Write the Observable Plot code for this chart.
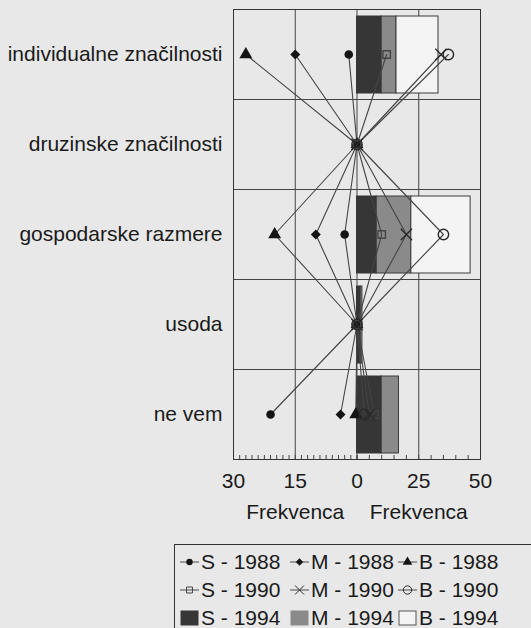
<!DOCTYPE html>
<html><head><meta charset="utf-8">
<script src="https://cdn.jsdelivr.net/npm/d3@7"></script>
<script src="https://cdn.jsdelivr.net/npm/@observablehq/plot@0.6"></script>
<style>
body{margin:0;background:#e8e8e8;font-family:"Liberation Sans",Arial,sans-serif;color:#1a1a1a;}
#wrap{position:relative;width:531px;height:628px;overflow:hidden;}
#legend{position:absolute;left:174px;top:544px;width:420px;height:100px;border:1px solid #333;box-sizing:border-box;padding:3px 0 0 5px;}
.row{display:flex;height:28px;align-items:center;}
.item{display:flex;align-items:center;font-size:21px;white-space:nowrap;}
.item svg{margin-right:2px;}
</style></head><body><div id="wrap"><div id="chart"></div><div id="legend"></div></div>
<script>
const categories = ["individualne značilnosti","druzinske značilnosti","gospodarske razmere","usoda","ne vem"];
const leftMax = 30, rightMax = 50;
const leftTicks = [30, 15];
const rightTicks = [0, 25, 50];
const axisTitle = "Frekvenca";

const S1988 = [2, 0, 3, 0, 21];
const M1988 = [15, 0, 10, 0, 4];
const B1988 = [27, 0, 20, 0, 0.3];
const S1990 = [12, 0, 10, 0, 7];
const M1990 = [34, 0, 20, 0, 5];
const B1990 = [37, 0, 35, 0, 3];
const S1994 = [10, 0, 8, 1.5, 10];
const M1994 = [6, 0, 14, 0.7, 7];
const B1994 = [17, 0, 24, 0, 0];

const L = v => -v / leftMax, R = v => v / rightMax;

const lineSeries = [
  {name: "S - 1988", values: S1988, pos: L, symbol: "circle", r: 4.3, fill: "#151515", stroke: "none"},
  {name: "M - 1988", values: M1988, pos: L, symbol: "diamond2", r: 4.5, fill: "#151515", stroke: "none"},
  {name: "B - 1988", values: B1988, pos: L, symbol: "triangle", r: 4.8, fill: "#151515", stroke: "none"},
  {name: "S - 1990", values: S1990, pos: R, symbol: "square", r: 4.2, fill: "none", stroke: "#444"},
  {name: "M - 1990", values: M1990, pos: R, symbol: "times", r: 5.2, fill: "none", stroke: "#2a2a2a"},
  {name: "B - 1990", values: B1990, pos: R, symbol: "circle", r: 5.2, fill: "none", stroke: "#2a2a2a"}
];
const barSeries = [
  {name: "S - 1994", values: S1994, fill: "#363636"},
  {name: "M - 1994", values: M1994, fill: "#8a8a8a"},
  {name: "B - 1994", values: B1994, fill: "#f4f4f4"}
];

const points = lineSeries.flatMap(s => s.values.map((v, i) => ({series: s.name, i, u: s.pos(v)})));

const rects = [];
categories.forEach((c, i) => {
  let acc = 0;
  barSeries.forEach(s => {
    const v = s.values[i];
    if (v > 0) rects.push({series: s.name, i, x1: R(acc), x2: R(acc + v), fill: s.fill});
    acc += v;
  });
});

const majorU = [...leftTicks.map(L), ...rightTicks.map(R)];
const gridU = majorU.filter(u => u > -1 && u < 1);
const minorU = [...d3.range(0, leftMax + 1e-9, 1.5).map(L), ...d3.range(0, rightMax + 1e-9, 5).map(R)];
const rowBounds = d3.range(1, categories.length).map(i => i - 0.5);
const titles = [{u: (L(leftMax) + L(0)) / 2}, {u: (R(0) + R(rightMax)) / 2}];

const marks = [
  Plot.ruleX(gridU, {stroke: "#444", strokeWidth: 1}),
  Plot.ruleY(rowBounds, {stroke: "#444", strokeWidth: 1}),
  Plot.ruleX(minorU, {stroke: "#444", strokeWidth: 1, insetTop: 446})
];
barSeries.forEach(s => {
  marks.push(Plot.rect(rects.filter(d => d.series === s.name), {
    x1: "x1", x2: "x2", y1: d => d.i - 0.5, y2: d => d.i + 0.5,
    insetTop: 7, insetBottom: 6, fill: s.fill, stroke: s.name === "S - 1994" ? "#363636" : "#3a3a3a", strokeWidth: 1
  }));
});
marks.push(Plot.line(points, {x: "u", y: "i", z: "series", stroke: "#444", strokeWidth: 1.1}));
lineSeries.forEach(s => {
  marks.push(Plot.dot(points.filter(d => d.series === s.name), {
    x: "u", y: "i", symbol: s.symbol, r: s.r, fill: s.fill, stroke: s.stroke, strokeWidth: 1.4
  }));
});
marks.push(Plot.frame({stroke: "#333", strokeWidth: 1}));
marks.push(Plot.axisY({ticks: d3.range(categories.length), tickFormat: i => categories[i], tickSize: 0, tickPadding: 11, label: null}));
marks.push(Plot.axisX({ticks: majorU, tickFormat: u => u < 0 ? String(Math.round(-u * leftMax)) : String(Math.round(u * rightMax)), tickSize: 0, tickPadding: 14, label: null}));
marks.push(Plot.text(titles, {x: "u", text: () => axisTitle, frameAnchor: "bottom", dy: 59, fontSize: 21, fill: "#1a1a1a"}));

const chart = Plot.plot({
  width: 531, height: 540,
  marginLeft: 233, marginRight: 51, marginTop: 9, marginBottom: 81,
  x: {domain: [-1, 1]},
  y: {domain: [-0.5, categories.length - 0.5], reverse: true},
  style: {fontSize: "21px", fontFamily: "Liberation Sans, Arial, sans-serif", background: "transparent", color: "#1a1a1a", overflow: "visible"},
  marks
});
document.getElementById("chart").appendChild(chart);

// legend
const legend = d3.select("#legend");
const rowsDef = [lineSeries.slice(0, 3), lineSeries.slice(3, 6), barSeries];
const colW = [110, 108, 120];
rowsDef.forEach((row, ri) => {
  const rdiv = legend.append("div").attr("class", "row");
  row.forEach((s, ci) => {
    const it = rdiv.append("div").attr("class", "item").style("width", colW[ci] + "px");
    const svg = it.append("svg").attr("width", 19).attr("height", 18);
    if (ri < 2) {
      svg.append("line").attr("x1", 0).attr("x2", 19).attr("y1", 9).attr("y2", 9).attr("stroke", "#4d4d4d").attr("stroke-width", 1);
      const sym = {circle: d3.symbolCircle, diamond2: d3.symbolDiamond2, triangle: d3.symbolTriangle, square: d3.symbolSquare, times: d3.symbolTimes}[s.symbol];
      const sc = ri === 0 ? 0.75 : 0.8;
      svg.append("path").attr("transform", "translate(9.5,9)").attr("d", d3.symbol(sym, Math.PI * (s.r * sc) ** 2)())
        .attr("fill", s.fill).attr("stroke", s.stroke).attr("stroke-width", 1);
    } else {
      svg.append("rect").attr("x", 1).attr("y", 2).attr("width", 17).attr("height", 14)
        .attr("fill", s.fill).attr("stroke", s.name === "B - 1994" ? "#555" : s.fill).attr("stroke-width", 1);
    }
    it.append("span").text(s.name);
  });
});
</script></body></html>
